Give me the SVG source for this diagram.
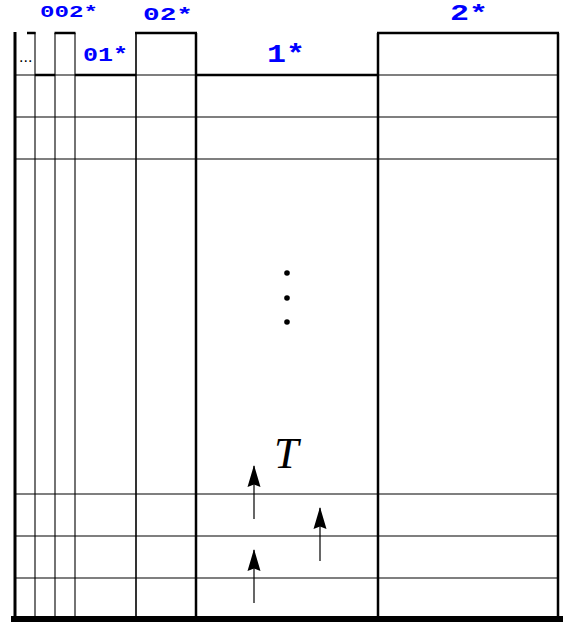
<svg xmlns="http://www.w3.org/2000/svg" width="565" height="623" viewBox="0 0 565 623">
<defs>
<style>
.thin{stroke:#000;stroke-width:1.1;fill:none}
.med{stroke:#000;stroke-width:1.6;fill:none}
.thick{stroke:#000;stroke-width:2.5;fill:none}
.lbl{font-family:"Liberation Mono","DejaVu Sans Mono",monospace;font-weight:bold;fill:#0000ff}
.arr{stroke:#000;stroke-width:1.2;fill:none}
</style>
<marker id="ah" viewBox="0 0 22 14" refX="21" refY="7" markerWidth="22" markerHeight="14" markerUnits="userSpaceOnUse" orient="auto">
<path d="M22,7 L0,0.5 L2.5,7 L0,13.5 Z" fill="#000"/>
</marker>
</defs>
<rect width="565" height="623" fill="#fff"/>
<g id="grid">
<line class="thin" x1="15" y1="75" x2="558" y2="75"/>
<line class="thin" x1="15" y1="117" x2="558" y2="117"/>
<line class="thin" x1="15" y1="159" x2="558" y2="159"/>
<line class="thin" x1="15" y1="494" x2="558" y2="494"/>
<line class="thin" x1="15" y1="536" x2="558" y2="536"/>
<line class="thin" x1="15" y1="578" x2="558" y2="578"/>
<line class="thin" x1="35" y1="32" x2="35" y2="617"/>
<line class="thin" x1="55" y1="33" x2="55" y2="617"/>
<line class="thin" x1="75" y1="33" x2="75" y2="617"/>
<line class="med" x1="136" y1="33" x2="136" y2="617"/>
<line class="thick" x1="15" y1="32" x2="15" y2="617" style="stroke-width:3"/>
<line class="thick" x1="196" y1="33" x2="196" y2="617"/>
<line class="thick" x1="378" y1="33" x2="378" y2="617"/>
<line class="thick" x1="558" y1="33" x2="558" y2="617"/>
<line class="thick" x1="27" y1="33" x2="35.5" y2="33"/>
<line class="thick" x1="54.5" y1="33" x2="75.5" y2="33"/>
<line class="thick" x1="135" y1="33" x2="197" y2="33"/>
<line class="thick" x1="377" y1="33" x2="559" y2="33"/>
<line class="thick" x1="35" y1="75" x2="55" y2="75"/>
<line class="thick" x1="75" y1="75" x2="136" y2="75"/>
<line class="thick" x1="196" y1="75" x2="378" y2="75"/>
<line x1="11" y1="619" x2="563" y2="619" stroke="#000" stroke-width="6"/>
</g>
<g id="labels">
<text class="lbl" x="40" y="17" font-size="17" textLength="58" lengthAdjust="spacingAndGlyphs">002*</text>
<text class="lbl" x="143" y="19.5" font-size="19" textLength="50" lengthAdjust="spacingAndGlyphs">02*</text>
<text class="lbl" x="83" y="61" font-size="21" textLength="45" lengthAdjust="spacingAndGlyphs">01*</text>
<text class="lbl" x="267" y="62" font-size="26" textLength="38" lengthAdjust="spacingAndGlyphs">1*</text>
<text class="lbl" x="450" y="20" font-size="22" textLength="38" lengthAdjust="spacingAndGlyphs">2*</text>
<text x="19" y="62" font-family="Liberation Sans, sans-serif" font-size="16" fill="#000">...</text>
<text x="274" y="468" font-family="Liberation Serif, serif" font-style="italic" font-size="44" fill="#000">T</text>
</g>
<g id="dots" fill="#000">
<circle cx="287" cy="273" r="2.8"/>
<circle cx="287" cy="298" r="2.8"/>
<circle cx="287" cy="322" r="2.8"/>
</g>
<g id="connectors">
<line class="arr" x1="254" y1="519" x2="254" y2="466" marker-end="url(#ah)"/>
<line class="arr" x1="320" y1="561" x2="320" y2="508" marker-end="url(#ah)"/>
<line class="arr" x1="254" y1="603" x2="254" y2="550" marker-end="url(#ah)"/>
</g>
</svg>
